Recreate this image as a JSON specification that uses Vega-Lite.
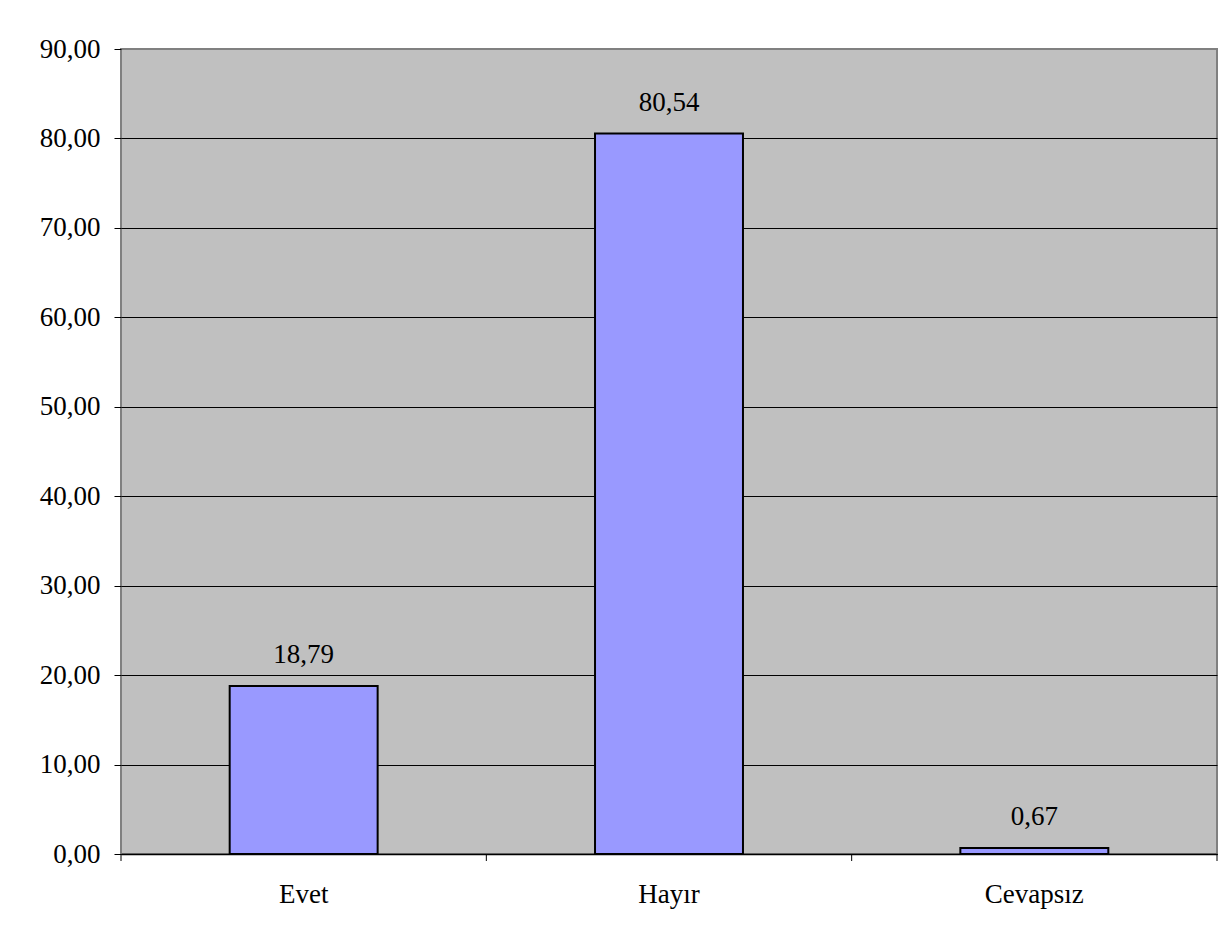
{
  "$schema": "https://vega.github.io/schema/vega-lite/v6.json",
  "autosize": {"type": "none"},
  "width": 1096,
  "height": 805,
  "padding": {"left": 121, "top": 49, "right": 5, "bottom": 88},
  "background": "white",
  "config": {
    "locale": {"number": {"decimal": ",", "thousands": ".", "grouping": [3], "currency": ["", " TL"]}},
    "view": {"fill": "#C0C0C0", "stroke": "#808080", "strokeWidth": 2},
    "font": "Liberation Serif",
    "axis": {"labelFont": "Liberation Serif", "labelFontSize": 27, "labelColor": "black", "titleFont": "Liberation Serif"}
  },
  "data": {"values": [
    {"cevap": "Evet", "yuzde": 18.79},
    {"cevap": "Hayır", "yuzde": 80.54},
    {"cevap": "Cevapsız", "yuzde": 0.67}
  ]},
  "layer": [
    {
      "mark": {"type": "bar", "fill": "#9999FF", "stroke": "black", "strokeWidth": 2, "width": {"band": 0.405}},
      "encoding": {
        "x": {"field": "cevap", "type": "nominal", "sort": null,
              "scale": {"paddingInner": 0, "paddingOuter": 0},
              "axis": {"title": null, "labelAngle": 0, "ticks": false, "tickSize": 0, "labelPadding": 48,
                       "labelBaseline": "alphabetic", "domainColor": "black", "domainWidth": 1.5, "grid": false}},
        "y": {"field": "yuzde", "type": "quantitative",
              "scale": {"domain": [0, 90], "nice": false},
              "axis": {"title": null, "values": [0, 10, 20, 30, 40, 50, 60, 70, 80, 90], "format": ".2f",
                       "domain": false, "tickSize": 7, "tickColor": "black", "tickWidth": 1, "labelPadding": 14,
                       "grid": true, "gridWidth": 1,
                       "gridColor": {"condition": {"test": "datum.value === 90", "value": "#808080"}, "value": "black"}}}
      }
    },
    {
      "mark": {"type": "text", "baseline": "alphabetic", "align": "center", "dy": -23, "fontSize": 27, "font": "Liberation Serif", "color": "black"},
      "encoding": {
        "x": {"field": "cevap", "type": "nominal", "sort": null},
        "y": {"field": "yuzde", "type": "quantitative"},
        "text": {"field": "yuzde", "type": "quantitative", "format": ".2f"}
      }
    },
    {
      "mark": {"type": "rule", "color": "black", "strokeWidth": 1, "y2Offset": 7},
      "encoding": {
        "x": {"field": "cevap", "type": "nominal", "sort": null, "bandPosition": 0},
        "y": {"datum": 0},
        "y2": {"datum": 0}
      }
    },
    {
      "transform": [{"filter": "datum.cevap === 'Cevapsız'"}],
      "mark": {"type": "rule", "color": "black", "strokeWidth": 1, "y2Offset": 7},
      "encoding": {
        "x": {"field": "cevap", "type": "nominal", "sort": null, "bandPosition": 1},
        "y": {"datum": 0},
        "y2": {"datum": 0}
      }
    }
  ]
}
